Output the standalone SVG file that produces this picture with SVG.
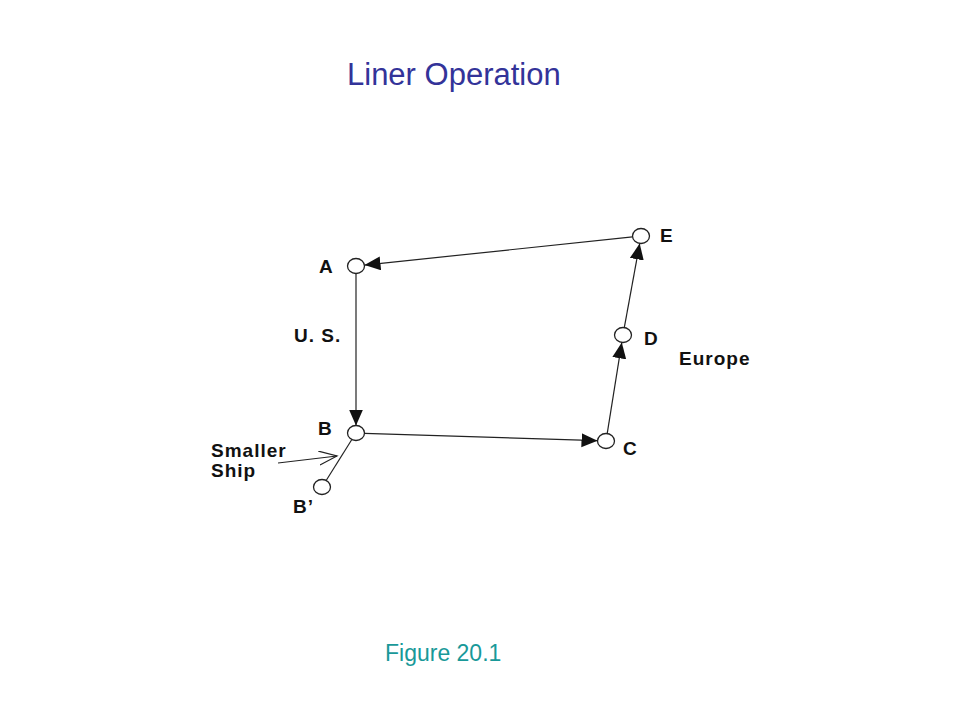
<svg xmlns="http://www.w3.org/2000/svg" width="960" height="720" viewBox="0 0 960 720">
<style>
.node{fill:#fff;stroke:#222;stroke-width:1.3}
.lbl{font-family:"Liberation Sans",Arial,sans-serif;font-weight:bold;font-size:19px;fill:#111;letter-spacing:1px}
.edge{stroke:#222;stroke-width:1.2;fill:none}
</style>
<defs>
<marker id="tri" markerUnits="userSpaceOnUse" markerWidth="17" markerHeight="15" refX="16" refY="7" orient="auto">
<path d="M0,0 L16,7 L0,14 z" fill="#111"/>
</marker>
<marker id="open" markerUnits="userSpaceOnUse" markerWidth="20" markerHeight="16" refX="18" refY="7" orient="auto">
<path d="M0,0 L18,7 L0,14" fill="none" stroke="#222" stroke-width="1.2"/>
</marker>
</defs>
<rect width="960" height="720" fill="#fff"/>
<text x="347" y="85" font-family="Liberation Sans,Arial,sans-serif" font-size="31" fill="#333399">Liner Operation</text>
<g id="connectors">
<line class="edge" x1="632.5" y1="236.9" x2="364.5" y2="265.1" marker-end="url(#tri)"/>
<line class="edge" x1="356" y1="273.5" x2="356" y2="425.5" marker-end="url(#tri)"/>
<line class="edge" x1="364.5" y1="433.3" x2="597.5" y2="440.7" marker-end="url(#tri)"/>
<line class="edge" x1="607.2" y1="433.6" x2="621.8" y2="342.4" marker-end="url(#tri)"/>
<line class="edge" x1="624.3" y1="327.6" x2="639.7" y2="243.4" marker-end="url(#tri)"/>
<line class="edge" x1="352" y1="439.3" x2="326" y2="480.7"/>
<line class="edge" x1="278" y1="463" x2="337" y2="456" marker-end="url(#open)"/>
</g>
<g id="node-A"><ellipse class="node" cx="356" cy="266" rx="8.5" ry="7.5"/><text class="lbl" x="319" y="273">A</text></g>
<g id="node-B"><ellipse class="node" cx="356" cy="433" rx="8.5" ry="7.5"/><text class="lbl" x="318" y="435">B</text></g>
<g id="node-Bp"><ellipse class="node" cx="322" cy="487" rx="8.5" ry="7.5"/><text class="lbl" x="293" y="513">B’</text></g>
<g id="node-C"><ellipse class="node" cx="606" cy="441" rx="8.5" ry="7.5"/><text class="lbl" x="623" y="455">C</text></g>
<g id="node-D"><ellipse class="node" cx="623" cy="335" rx="8.5" ry="7.5"/><text class="lbl" x="644" y="345">D</text></g>
<g id="node-E"><ellipse class="node" cx="641" cy="236" rx="8.5" ry="7.5"/><text class="lbl" x="660" y="242">E</text></g>
<g id="labels">
<text class="lbl" x="294" y="342" letter-spacing="2.5">U. S.</text>
<text class="lbl" x="679" y="365">Europe</text>
<text class="lbl" x="211" y="457">Smaller</text>
<text class="lbl" x="211" y="477">Ship</text>
</g>
<text x="385" y="661" font-family="Liberation Sans,Arial,sans-serif" font-size="23" fill="#199999">Figure 20.1</text>
</svg>
